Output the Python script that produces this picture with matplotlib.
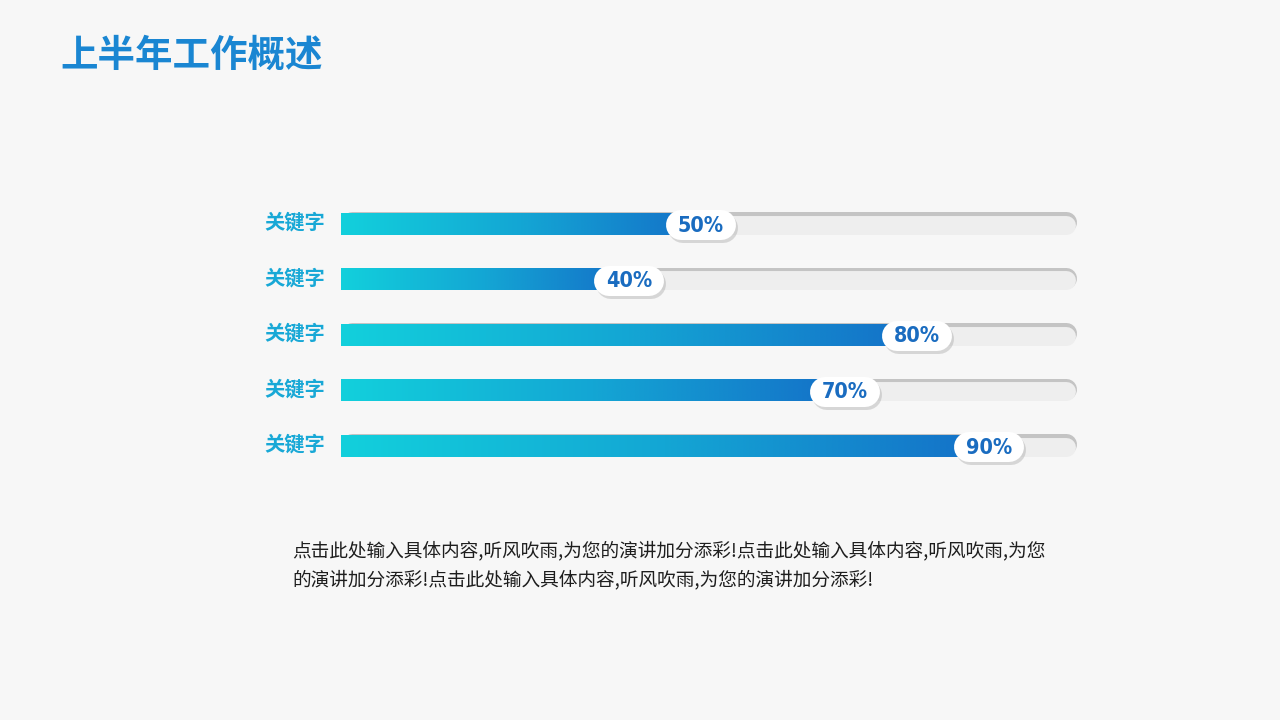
import matplotlib
matplotlib.use("Agg")
import matplotlib.pyplot as plt
import numpy as np
from matplotlib.colors import LinearSegmentedColormap
import matplotlib.patheffects as pe

plt.rcParams['font.family'] = ['Noto Sans CJK SC', 'DejaVu Sans']

# ---- data ----
categories = ["关键字", "关键字", "关键字", "关键字", "关键字"]
values = [50, 40, 80, 70, 90]
value_labels = ["50%", "40%", "80%", "70%", "90%"]
title = "上半年工作概述"
body_lines = [
    "点击此处输入具体内容,听风吹雨,为您的演讲加分添彩!点击此处输入具体内容,听风吹雨,为您",
    "的演讲加分添彩!点击此处输入具体内容,听风吹雨,为您的演讲加分添彩!",
]

W, H = 1280, 720
fig = plt.figure(figsize=(12.8, 7.2), dpi=100)
fig.patch.set_facecolor('#f7f7f7')

# axes: x 0..100 -> px 341..1061 ; rows centered at 224 + 55.5*i (from top)
left_px, width_px = 341, 720
step = 55.5
top_px = 224 - step / 2
height_px = step * len(values)
ax = fig.add_axes([left_px / W, (H - top_px - height_px) / H, width_px / W, height_px / H])
ax.axis('off')

px_per_x = width_px / 100.0
px_per_y = step
pt_per_px = 72 / 100.0

cmap = LinearSegmentedColormap.from_list('g', ['#12d0dc', '#14a6d4', '#1470c8'])
grad = np.linspace(0, 1, 256).reshape(1, -1)

bar_h_px = 22
track_end = 102.2
track_lw = 21 * pt_per_px
cap_x = (21 / 2) / px_per_x

pill_w_px, pill_h_px = 70, 30
pill_half = ((pill_w_px - pill_h_px) / 2) / px_per_x

for i, (v, lab) in enumerate(zip(values, value_labels)):
    y = i
    # track shadow + track
    ax.plot([cap_x, track_end - cap_x], [y - 2 / px_per_y, y - 2 / px_per_y],
            color='#c4c4c4', lw=track_lw, solid_capstyle='round', zorder=1, clip_on=False)
    ax.plot([cap_x, track_end - cap_x], [y + 0.7 / px_per_y, y + 0.7 / px_per_y],
            color='#eeeeee', lw=track_lw - 1.5, solid_capstyle='round', zorder=1.5, clip_on=False)
    # gradient fill bar
    hh = (bar_h_px / 2) / px_per_y
    ax.imshow(grad, cmap=cmap, aspect='auto', extent=(0, v, y + hh, y - hh),
              zorder=2, interpolation='bicubic')
    # pill
    ax.plot([v - pill_half, v + pill_half], [y + 1 / px_per_y, y + 1 / px_per_y], color='white',
            lw=pill_h_px * pt_per_px, solid_capstyle='round', zorder=3, clip_on=False,
            path_effects=[pe.SimpleLineShadow(offset=(1.2, -2.2), shadow_color='#9a9a9a', alpha=0.35),
                          pe.Normal()])
    ax.text(v, y + 1.5 / px_per_y, lab, ha='center', va='center', color='#1a6cc0',
            fontsize=15.5, fontweight='bold', fontstretch='condensed',
            family=['Liberation Sans Narrow', 'DejaVu Sans'], zorder=4)
    # category label
    ax.text(-16 / px_per_x, y - 2 / px_per_y, categories[i], ha='right', va='center',
            color='#18a8d6', fontsize=14.6, fontweight='bold')
ax.set_xlim(0, 100)
ax.set_ylim(len(values) - 0.5, -0.5)

# title
fig.text(60 / W, 1 - 55 / H, title, ha='left', va='center', fontsize=27,
         fontweight='heavy', color='#1a86d2')

# body text
for k, line in enumerate(body_lines):
    fig.text(292 / W, 1 - (551 + 29 * k) / H, line, ha='left', va='center',
             fontsize=13.45, color='#1e1e1e')

fig.savefig('out.png', dpi=100, facecolor=fig.get_facecolor())
